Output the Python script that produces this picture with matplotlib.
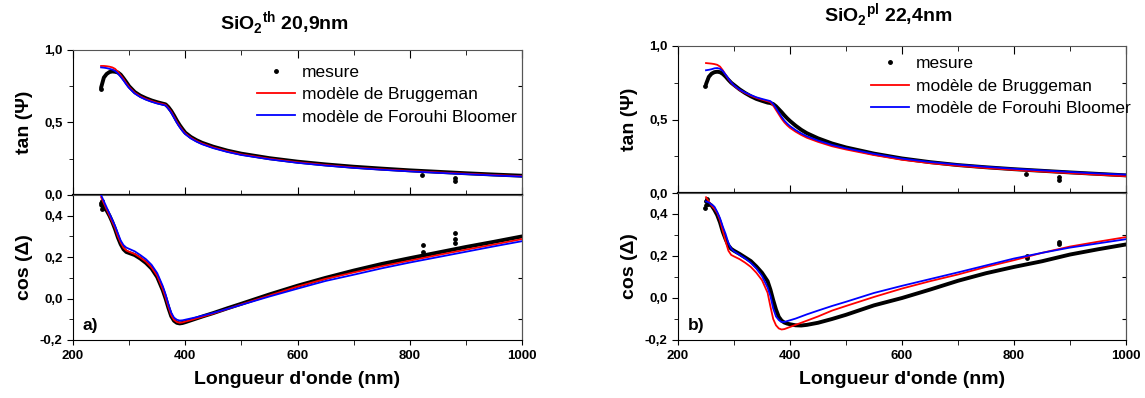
#!/usr/bin/env python3

import matplotlib
matplotlib.use('Agg')

import matplotlib.pyplot as plt
import matplotlib.ticker as mticker
from matplotlib.lines import Line2D

plt.rcParams['font.family'] = ['Liberation Sans', 'DejaVu Sans']
plt.rcParams['mathtext.fontset'] = 'custom'
plt.rcParams['mathtext.rm'] = 'Liberation Sans'
plt.rcParams['mathtext.bf'] = 'Liberation Sans:bold'

# wavelength grid (nm)
wl = [250, 255, 260, 265, 270, 275, 280, 285, 290, 295, 300, 310, 320, 330,
      340, 350, 360, 365, 370, 375, 380, 385, 390, 395, 400, 410, 420, 430,
      450, 475, 500, 550, 600, 650, 700, 750, 800, 850, 900, 950, 1000]

# --- a) SiO2 th 20,9nm ---------------------------------------------------
tan_mes_a = [0.74, 0.81, 0.835, 0.848, 0.852, 0.85, 0.845, 0.83, 0.805, 0.778,
             0.75, 0.71, 0.685, 0.667, 0.652, 0.64, 0.63, 0.625, 0.606, 0.58,
             0.548, 0.513, 0.482, 0.455, 0.43, 0.40, 0.378, 0.36, 0.333,
             0.306, 0.285, 0.254, 0.23, 0.211, 0.195, 0.182, 0.17, 0.16,
             0.15, 0.141, 0.133]
tan_brug_a = [0.89, 0.89, 0.888, 0.885, 0.88, 0.87, 0.85, 0.825, 0.80, 0.77,
              0.745, 0.705, 0.68, 0.662, 0.648, 0.636, 0.627, 0.622, 0.60,
              0.575, 0.54, 0.505, 0.475, 0.448, 0.425, 0.395, 0.373, 0.355,
              0.328, 0.302, 0.28, 0.25, 0.226, 0.207, 0.19, 0.177, 0.166,
              0.156, 0.147, 0.138, 0.13]
tan_fb_a = [0.88, 0.878, 0.875, 0.87, 0.865, 0.855, 0.838, 0.815, 0.79, 0.762,
            0.738, 0.70, 0.675, 0.657, 0.643, 0.631, 0.622, 0.617, 0.594,
            0.568, 0.533, 0.498, 0.468, 0.442, 0.42, 0.39, 0.368, 0.35,
            0.323, 0.297, 0.276, 0.246, 0.222, 0.203, 0.187, 0.174, 0.163,
            0.153, 0.144, 0.135, 0.127]
cos_mes_a = [0.45, 0.44, 0.425, 0.40, 0.37, 0.335, 0.295, 0.262, 0.238, 0.225,
             0.22, 0.21, 0.193, 0.172, 0.145, 0.104, 0.04, 0.0, -0.045,
             -0.085, -0.107, -0.117, -0.12, -0.118, -0.114, -0.105, -0.096,
             -0.087, -0.07, -0.047, -0.025, 0.02, 0.062, 0.1, 0.135, 0.167,
             0.195, 0.222, 0.249, 0.274, 0.30]
cos_brug_a = [0.49, 0.46, 0.43, 0.40, 0.37, 0.34, 0.30, 0.27, 0.245, 0.232,
              0.226, 0.215, 0.198, 0.178, 0.15, 0.11, 0.045, 0.005, -0.04,
              -0.08, -0.103, -0.113, -0.117, -0.115, -0.111, -0.104, -0.096,
              -0.088, -0.072, -0.05, -0.028, 0.015, 0.058, 0.095, 0.126,
              0.156, 0.183, 0.21, 0.236, 0.261, 0.287]
cos_fb_a = [0.50, 0.47, 0.44, 0.41, 0.38, 0.35, 0.315, 0.28, 0.258, 0.246,
            0.24, 0.228, 0.21, 0.19, 0.163, 0.123, 0.06, 0.02, -0.028,
            -0.068, -0.092, -0.102, -0.106, -0.105, -0.102, -0.096, -0.09,
            -0.083, -0.069, -0.05, -0.03, 0.01, 0.048, 0.085, 0.115, 0.146,
            0.174, 0.2, 0.226, 0.252, 0.277]

# isolated measurement points (start of scan and detector switch spikes)
tan_out_wl_a = [249, 822, 880, 880]
tan_out_a = [0.73, 0.135, 0.117, 0.094]
cos_out_wl_a = [249, 251, 253, 252, 823, 823, 880, 880, 881]
cos_out_a = [0.46, 0.47, 0.445, 0.43, 0.258, 0.226, 0.315, 0.286, 0.266]

# --- b) SiO2 pl 22,4nm ---------------------------------------------------
tan_mes_b = [0.74, 0.79, 0.812, 0.822, 0.825, 0.822, 0.81, 0.792, 0.77, 0.75,
             0.735, 0.705, 0.68, 0.658, 0.64, 0.627, 0.615, 0.612, 0.605,
             0.59, 0.57, 0.55, 0.528, 0.508, 0.49, 0.458, 0.43, 0.407, 0.372,
             0.337, 0.31, 0.268, 0.235, 0.21, 0.19, 0.175, 0.162, 0.151,
             0.14, 0.13, 0.12]
tan_brug_b = [0.884, 0.882, 0.88, 0.877, 0.872, 0.86, 0.835, 0.805, 0.775,
              0.75, 0.73, 0.70, 0.68, 0.662, 0.647, 0.635, 0.624, 0.618,
              0.595, 0.565, 0.535, 0.505, 0.48, 0.46, 0.443, 0.417, 0.395,
              0.376, 0.348, 0.318, 0.296, 0.258, 0.226, 0.203, 0.185, 0.17,
              0.157, 0.146, 0.135, 0.124, 0.114]
tan_fb_b = [0.835, 0.838, 0.842, 0.848, 0.85, 0.845, 0.83, 0.805, 0.778,
            0.752, 0.732, 0.703, 0.683, 0.666, 0.651, 0.64, 0.63, 0.625,
            0.605, 0.577, 0.548, 0.518, 0.492, 0.472, 0.455, 0.428, 0.405,
            0.386, 0.357, 0.327, 0.304, 0.266, 0.234, 0.211, 0.193, 0.178,
            0.165, 0.154, 0.143, 0.133, 0.125]
cos_mes_b = [0.44, 0.45, 0.44, 0.42, 0.395, 0.36, 0.315, 0.28, 0.25, 0.234,
             0.225, 0.21, 0.193, 0.176, 0.15, 0.12, 0.08, 0.04, -0.01, -0.055,
             -0.09, -0.108, -0.117, -0.122, -0.125, -0.13, -0.131, -0.128,
             -0.118, -0.1, -0.08, -0.035, 0.0, 0.04, 0.082, 0.118, 0.148,
             0.175, 0.207, 0.232, 0.255]
cos_brug_b = [0.48, 0.46, 0.44, 0.425, 0.405, 0.37, 0.32, 0.27, 0.225, 0.205,
              0.198, 0.185, 0.168, 0.148, 0.12, 0.085, 0.025, -0.04, -0.1,
              -0.13, -0.145, -0.15, -0.148, -0.143, -0.138, -0.128, -0.118,
              -0.108, -0.088, -0.06, -0.038, 0.005, 0.045, 0.08, 0.112,
              0.148, 0.18, 0.215, 0.245, 0.268, 0.29]
cos_fb_b = [0.46, 0.455, 0.445, 0.435, 0.41, 0.38, 0.34, 0.305, 0.262, 0.235,
            0.222, 0.205, 0.188, 0.167, 0.14, 0.105, 0.05, 0.01, -0.05,
            -0.088, -0.105, -0.114, -0.114, -0.11, -0.106, -0.098, -0.088,
            -0.078, -0.06, -0.038, -0.018, 0.024, 0.058, 0.09, 0.122, 0.155,
            0.188, 0.215, 0.24, 0.26, 0.28]

tan_out_wl_b = [249, 822, 880, 880]
tan_out_b = [0.73, 0.132, 0.109, 0.086]
cos_out_wl_b = [249, 250, 252, 254, 823, 823, 880, 880]
cos_out_b = [0.43, 0.46, 0.47, 0.45, 0.199, 0.19, 0.267, 0.258]

legend_labels = ['mesure', 'modèle de Bruggeman', 'modèle de Forouhi Bloomer']


def comma(v, pos):
    return ('%.1f' % v).replace('.', ',')


def style_axis(ax, top_panel):
    ax.set_xlim(200, 1000)
    ax.xaxis.set_major_locator(mticker.MultipleLocator(200))
    ax.xaxis.set_minor_locator(mticker.MultipleLocator(100))
    ax.yaxis.set_major_formatter(mticker.FuncFormatter(comma))
    if top_panel:
        ax.set_ylim(0, 1.0)
        ax.yaxis.set_major_locator(mticker.MultipleLocator(0.5))
        ax.yaxis.set_minor_locator(mticker.MultipleLocator(0.25))
        ax.tick_params(axis='x', which='both', direction='in', top=True,
                       bottom=True, labelbottom=False)
        ax.tick_params(axis='x', which='major', length=6)
        ax.tick_params(axis='x', which='minor', length=3.5)
    else:
        ax.set_ylim(-0.2, 0.5)
        ax.yaxis.set_major_locator(mticker.FixedLocator([-0.2, 0, 0.2, 0.4]))
        ax.yaxis.set_minor_locator(mticker.MultipleLocator(0.1))
        ax.tick_params(axis='x', which='both', direction='out', length=3.5,
                       top=False)
        ax.set_xlabel("Longueur d'onde (nm)", fontsize=14, fontweight='bold',
                      labelpad=7)
    ax.tick_params(axis='y', which='both', direction='out', left=True)
    ax.tick_params(axis='y', which='major', length=4)
    ax.tick_params(axis='y', which='minor', length=3)
    for lab in ax.get_xticklabels() + ax.get_yticklabels():
        lab.set_fontweight('bold')
    ax.tick_params(labelsize=9.5)
    # inward ticks on the right side, like the original Origin plot
    sec = ax.secondary_yaxis('right')
    sec.set_yticks(ax.get_yticks(minor=True))
    sec.tick_params(direction='in', length=3, labelright=False)
    sec.spines['right'].set_color('#555555')
    for sp in ['top', 'right']:
        ax.spines[sp].set_color('#555555')


def draw_panel(fig, pos_top, pos_bot, data, title, title_y, tag, leg_pos):
    (tan_mes, tan_brug, tan_fb, tan_out_wl, tan_out,
     cos_mes, cos_brug, cos_fb, cos_out_wl, cos_out) = data

    ax1 = fig.add_axes(pos_top)
    ax2 = fig.add_axes(pos_bot)

    ax1.plot(wl, tan_mes, color='black', lw=2.8, solid_capstyle='round',
             zorder=2)
    ax1.scatter(tan_out_wl, tan_out, s=6, color='black', zorder=2)
    ax1.plot(wl, tan_brug, color='#ff0000', lw=1.3, zorder=3)
    ax1.plot(wl, tan_fb, color='#0000ff', lw=1.3, zorder=3)

    ax2.plot(wl, cos_mes, color='black', lw=2.8, solid_capstyle='round',
             zorder=2)
    ax2.scatter(cos_out_wl, cos_out, s=6, color='black', zorder=2)
    ax2.plot(wl, cos_brug, color='#ff0000', lw=1.3, zorder=3)
    ax2.plot(wl, cos_fb, color='#0000ff', lw=1.3, zorder=3)

    style_axis(ax1, True)
    style_axis(ax2, False)
    ax1.spines['bottom'].set_linewidth(1.6)

    ax1.set_ylabel('tan (\u03a8)', fontsize=14, fontweight='bold')
    ax2.set_ylabel('cos (\u0394)', fontsize=14, fontweight='bold')
    ax1.yaxis.set_label_coords(-0.09, 0.5)
    ax2.yaxis.set_label_coords(-0.09, 0.5)

    ax2.text(0.022, 0.07, tag, transform=ax2.transAxes, fontsize=12.5,
             fontweight='bold')

    handles = [Line2D([], [], color='black', marker='.', ms=5, ls='none'),
               Line2D([], [], color='#ff0000', lw=1.3),
               Line2D([], [], color='#0000ff', lw=1.3)]
    ax1.legend(handles, legend_labels, loc='upper left',
               bbox_to_anchor=leg_pos, frameon=False, fontsize=12.5,
               handlelength=2.2, handletextpad=0.4, labelspacing=0.42,
               borderpad=0, borderaxespad=0)

    x_mid = pos_top[0] + pos_top[2] * 0.47
    fig.text(x_mid, title_y, title, ha='center', va='center', fontsize=14,
             fontweight='bold')


def main():

    fig = plt.figure(figsize=(11.45, 3.98), dpi=100)

    data_a = (tan_mes_a, tan_brug_a, tan_fb_a, tan_out_wl_a, tan_out_a,
              cos_mes_a, cos_brug_a, cos_fb_a, cos_out_wl_a, cos_out_a)
    data_b = (tan_mes_b, tan_brug_b, tan_fb_b, tan_out_wl_b, tan_out_b,
              cos_mes_b, cos_brug_b, cos_fb_b, cos_out_wl_b, cos_out_b)

    W, H = 1145.0, 398.0
    draw_panel(fig,
               [73 / W, (H - 195) / H, 449 / W, 145 / H],
               [73 / W, (H - 340) / H, 449 / W, 145 / H],
               data_a, r'SiO$_\mathbf{2}{}^\mathbf{th}$ 20,9nm',
               1 - 23 / H, 'a)', (0.41, 0.9))
    draw_panel(fig,
               [678 / W, (H - 193) / H, 448 / W, 147 / H],
               [678 / W, (H - 340) / H, 448 / W, 147 / H],
               data_b, r'SiO$_\mathbf{2}{}^\mathbf{pl}$ 22,4nm',
               1 - 15 / H, 'b)', (0.43, 0.93))

    fig.savefig('out.png', dpi=100)


if __name__ == '__main__':
    main()
